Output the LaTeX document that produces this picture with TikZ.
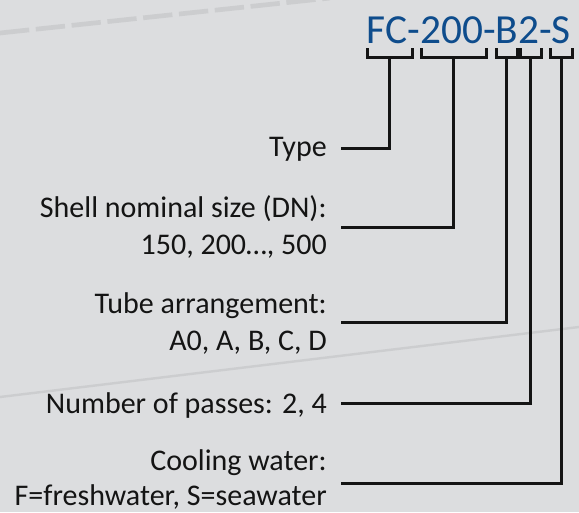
\documentclass[tikz,border=0pt]{standalone}
\usepackage{fontspec}
\setmainfont{Carlito}
\definecolor{codeblue}{RGB}{14,76,140}
\definecolor{paper}{RGB}{220,221,223}
\definecolor{inkblack}{RGB}{20,20,20}
\definecolor{ghost}{RGB}{204,205,207}

\begin{document}
\begin{tikzpicture}[x=0.75pt,y=-0.75pt,
    keytext/.style={anchor=base east,inner sep=0pt,text=inkblack,font=\fontsize{22.5}{27}\selectfont},
    lead/.style={line width=2.25pt,draw=inkblack,line cap=butt,line join=miter}]
        \fill[paper] (0,0) rectangle (579,512);
        \useasboundingbox (0,0) rectangle (579,512);
        % faint strokes of the backdrop
        \draw[ghost,line width=3.5pt,dash pattern=on 22pt off 5pt] (0,33) -- (330,-2);
        \draw[ghost,line width=1.8pt] (0,397) -- (579,327);
        % model code
        \node[anchor=base east,inner sep=0pt,text=codeblue,font=\fontsize{31}{37}\selectfont] (code) at (571,43) {FC-200-B2-S};
        \foreach \l/\r/\n in {367/412/a,421/486/b,496/517/c,520/541/d,550/572/e}{
          \draw[lead] (\l,48) |- (\r,57) -- (\r,48);
          \coordinate (\n) at ({(\l+\r)/2},57);
        }
        % explanations
        \node[keytext] (type) at (327,156) {Type};
        \node[keytext] (dn) at (327,217) {Shell nominal size (DN):};
        \node[keytext] (dnval) at (327,254) {150, 200…, 500};
        \node[keytext] (tube) at (327,313) {Tube arrangement:};
        \node[keytext] (tubeval) at (327,350) {A0, A, B, C, D};
        \node[keytext] (pass) at (327,413) {Number of passes: 2, 4};
        \node[keytext] (water) at (327,470) {Cooling water:};
        \node[keytext] (waterval) at (327,505) {F=freshwater, S=seawater};
        % leaders from the brackets to the texts
        \foreach \n/\y in {a/148,b/227,c/322,d/403,e/483}{
          \coordinate (\n-end) at (341,\y);
          \draw[lead] (\n) |- (\n-end);
        }
      \end{tikzpicture}
\end{document}
